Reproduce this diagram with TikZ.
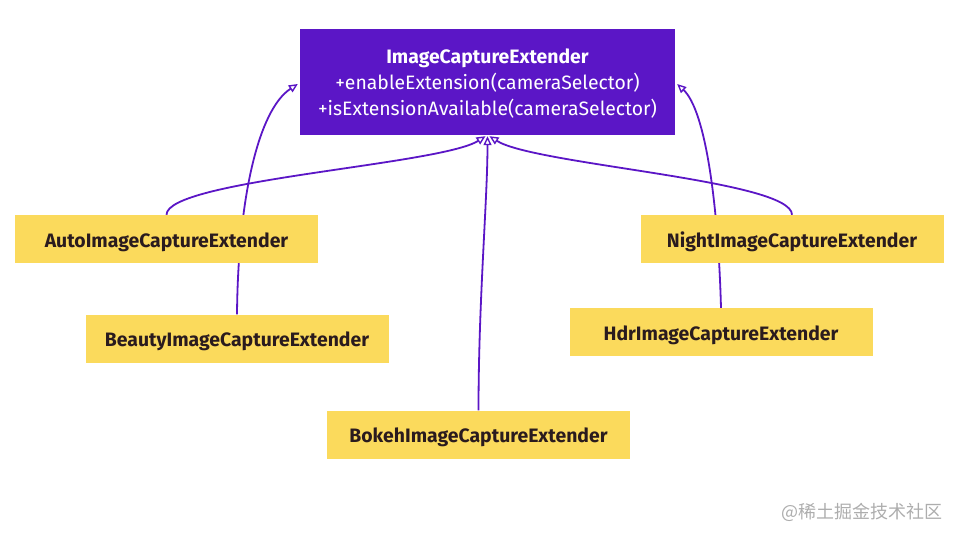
\documentclass[tikz,border=0pt]{standalone}
\usepackage{fontspec}
\setmainfont{Fira Sans}
\newfontfamily\cjk{Noto Sans CJK SC}
\usetikzlibrary{arrows.meta,backgrounds}
\definecolor{purp}{HTML}{5B16C6}
\definecolor{yel}{HTML}{FBDA5C}
\definecolor{ink}{HTML}{2A1B1E}
\definecolor{wm}{HTML}{ADADAD}
\begin{document}
\begin{tikzpicture}[x=1pt,y=-1pt, every node/.style={inner sep=0pt},
  subbox/.style={fill=yel, minimum width=303pt, minimum height=48pt,
    text height=17pt, text depth=1pt,
    font=\fontsize{19.4}{21}\selectfont\bfseries, text=ink},
  mainbox/.style={fill=purp, minimum width=375pt, minimum height=106pt},
  inh/.style={draw=purp, line width=1.8pt,
    -{Triangle[open, length=9pt, width=8pt, fill=white, line width=1.4pt]}}]
\useasboundingbox (0,0) rectangle (960,540);
\node[mainbox] (main) at (487.5,82) {};
\node[text=white, align=center, font=\fontsize{19.4}{26}\selectfont] (maintext) at (487.5,84) {\textbf{ImageCaptureExtender}\\+enableExtension(cameraSelector)\\+isExtensionAvailable(cameraSelector)};
\node[subbox] (auto) at (166.5,239) {AutoImageCaptureExtender};
\node[subbox] (beauty) at (237,338.5) {BeautyImageCaptureExtender};
\node[subbox] (night) at (792,239) {NightImageCaptureExtender};
\node[subbox] (hdr) at (721,332) {HdrImageCaptureExtender};
\node[subbox] (bokeh) at (478.5,434.5) {BokehImageCaptureExtender};
\node[text=wm, font=\cjk\fontsize{18}{20}\selectfont] (wmark) at (862,512) {@稀土掘金技术社区};
\begin{scope}[on background layer]
\draw[inh] (auto.north) .. controls (166.5,180) and (440,165) .. ([xshift=-2pt,yshift=-1pt]main.south);
\draw[inh] (night.north) .. controls (792,180) and (535,165) .. ([xshift=2pt,yshift=-1pt]main.south);
\draw[inh] (bokeh.north) .. controls (478.5,300) and (487.5,200) .. ([yshift=-1pt]main.south);
\draw[inh] (beauty.north) .. controls (238,200) and (258,110) .. ([xshift=-2pt,yshift=-2pt]main.west);
\draw[inh] (hdr.north) .. controls (718,200) and (705,110) .. ([xshift=2pt,yshift=-2pt]main.east);
\end{scope}
\end{tikzpicture}
\end{document}
